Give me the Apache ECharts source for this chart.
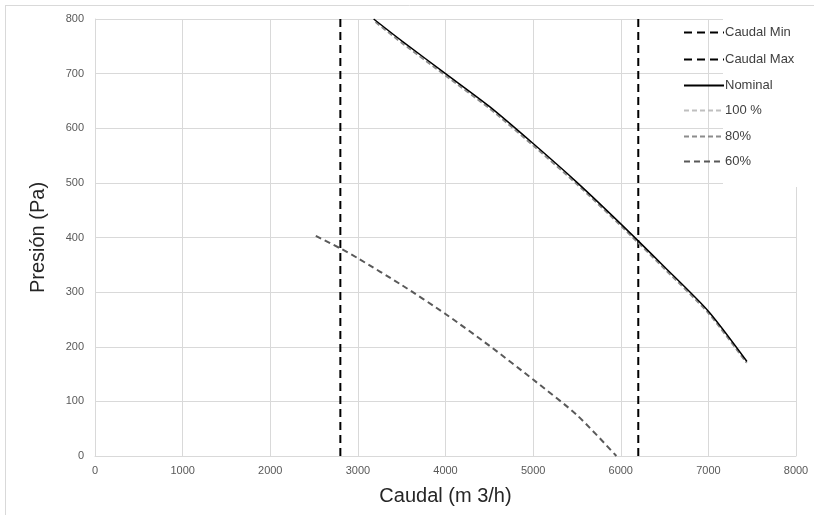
<!DOCTYPE html>
<html>
<head>
<meta charset="utf-8">
<script src="https://cdn.jsdelivr.net/npm/echarts@6/dist/echarts.min.js"></script>
<style>
  html, body { margin: 0; padding: 0; background: #fff; }
  #main { width: 814px; height: 515px; }
</style>
</head>
<body>
<div id="main"></div>
<script>
// caudal (m3/h) / presion (Pa)
var caudalMin = [[2800, 0], [2800, 800]];
var caudalMax = [[6200, 0], [6200, 800]];
var nominal = [[3180, 800], [3500, 760], [4000, 700], [4500, 640], [5000, 572], [5500, 501], [6000, 425], [6500, 346], [7000, 265], [7440, 173]];
var curva100 = [[3200, 795], [3500, 757], [4000, 697], [4500, 637], [5000, 569], [5500, 498], [6000, 422], [6500, 343], [7000, 262], [7440, 170]];
var curva80 = [[3200, 794], [3500, 756], [4000, 696], [4500, 636], [5000, 568], [5500, 497], [6000, 421], [6500, 342], [7000, 261], [7430, 171]];
var curva60 = [[2520, 403], [2800, 380], [3000, 362], [3500, 313], [4000, 260], [4500, 202], [5000, 140], [5500, 75], [5950, 0]];
var legendNames = ['Caudal Min', 'Caudal Max', 'Nominal', '100 %', '80%', '60%'];
var legendTops = [26, 53, 79, 104, 130, 155];

var gris = '#d9d9d9';
var fuente = '"Liberation Sans", Arial, sans-serif';

var legends = [];
for (var i = 0; i < legendNames.length; i++) {
    legends.push({
        data: [legendNames[i]],
        left: 683,
        top: legendTops[i],
        itemWidth: 40,
        itemHeight: 12,
        itemGap: 0,
        padding: 0,
        selectedMode: false,
        itemStyle: { opacity: 0 },
        textStyle: { color: '#404040', fontSize: 13, fontFamily: fuente, padding: [9, 0, 0, -4] }
    });
}

function linea(name, data, color, width, type, smooth) {
    return {
        name: name,
        type: 'line',
        data: data,
        symbol: 'none',
        smooth: smooth,
        silent: true,
        lineStyle: { color: color, width: width, type: type },
        itemStyle: { color: color }
    };
}

var option = {
    backgroundColor: '#fff',
    animation: false,
    textStyle: { fontFamily: fuente },
    grid: { left: 95, right: 18, top: 19, bottom: 59 },
    legend: legends,
    graphic: [
        { type: 'rect', shape: { x: 723, y: 10, width: 90, height: 177 }, style: { fill: '#fff' }, z: 1 },
        { type: 'line', shape: { x1: 5.5, y1: 5, x2: 5.5, y2: 515 }, style: { stroke: gris, lineWidth: 1 } },
        { type: 'line', shape: { x1: 5, y1: 5.5, x2: 814, y2: 5.5 }, style: { stroke: gris, lineWidth: 1 } }
    ],
    xAxis: {
        type: 'value',
        min: 0, max: 8000, interval: 1000,
        name: 'Caudal (m 3/h)',
        nameLocation: 'middle',
        nameGap: 30,
        nameTextStyle: { fontSize: 20, color: '#262626', fontFamily: fuente },
        axisLine: { lineStyle: { color: gris } },
        axisTick: { show: false },
        axisLabel: { color: '#595959', fontSize: 11, margin: 9, formatter: function (v) { return String(v); } },
        splitLine: { lineStyle: { color: gris } }
    },
    yAxis: {
        type: 'value',
        min: 0, max: 800, interval: 100,
        name: 'Presión (Pa)',
        nameLocation: 'middle',
        nameGap: 47,
        nameTextStyle: { fontSize: 20, color: '#262626', fontFamily: fuente },
        axisLine: { show: true, lineStyle: { color: gris } },
        axisTick: { show: false },
        axisLabel: { color: '#595959', fontSize: 11, margin: 11 },
        splitLine: { lineStyle: { color: gris } }
    },
    series: [
        linea('Caudal Min', caudalMin, '#000', 2, [8, 5], false),
        linea('Caudal Max', caudalMax, '#000', 2, [8, 5], false),
        linea('100 %', curva100, '#bfbfbf', 1.5, [5, 3], 0.25),
        linea('80%', curva80, '#8c8c8c', 1.5, [5, 3], 0.25),
        linea('Nominal', nominal, '#000', 1.5, 'solid', 0.25),
        linea('60%', curva60, '#595959', 2, [6, 4], 0.25)
    ]
};

var myChart = echarts.init(document.getElementById('main'));
myChart.setOption(option);
</script>
</body>
</html>
